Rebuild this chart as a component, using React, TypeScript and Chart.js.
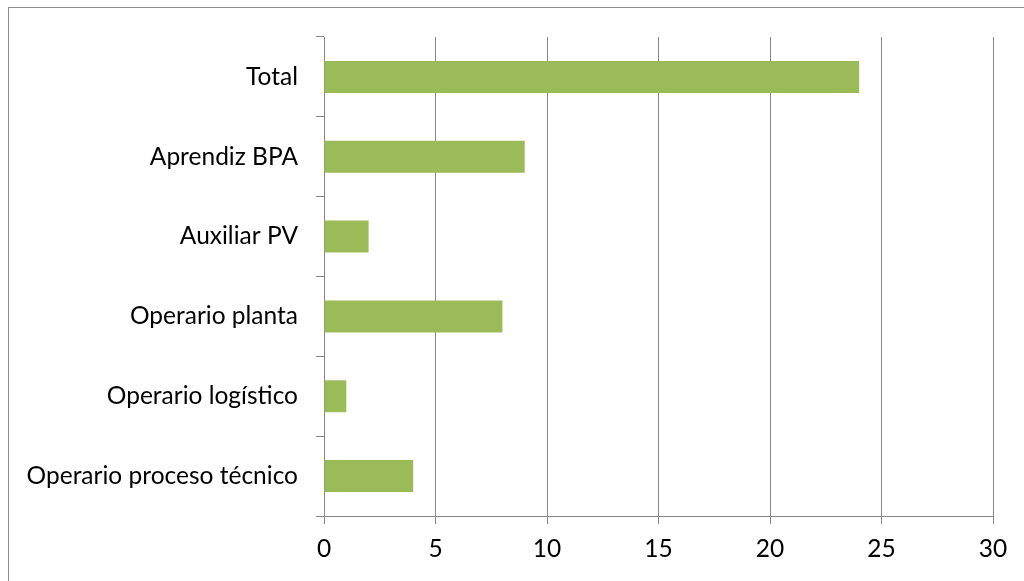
import React, { useEffect, useRef } from "react";
import { Chart, registerables } from "chart.js";

Chart.register(...registerables);

const categories = [
  "Total",
  "Aprendiz BPA",
  "Auxiliar PV",
  "Operario planta",
  "Operario logístico",
  "Operario proceso técnico",
];
const values = [24, 9, 2, 8, 1, 4];
const xMin = 0;
const xMax = 30;
const xStep = 5;

const FONT = "Lato";
const GRID = "#868686";

export default function App() {
  const ref = useRef<HTMLCanvasElement | null>(null);
  useEffect(() => {
    if (!ref.current) return;
    const chart = new Chart(ref.current, {
      type: "bar",
      data: {
        labels: categories,
        datasets: [
          {
            data: values,
            backgroundColor: "#9BBB59",
            borderWidth: 0,
            barPercentage: 0.4,
            categoryPercentage: 1,
          },
        ],
      },
      options: {
        indexAxis: "y",
        animation: false,
        responsive: false,
        maintainAspectRatio: false,
        layout: { padding: { top: 37, right: 31, bottom: 0, left: 0 } },
        plugins: { legend: { display: false }, tooltip: { enabled: false } },
        scales: {
          x: {
            min: xMin,
            max: xMax,
            ticks: { stepSize: xStep, color: "#000", font: { family: FONT, size: 24.5 }, padding: 10 },
            grid: { color: GRID, lineWidth: 1, tickLength: 8 },
            border: { color: GRID, width: 1 },
            afterFit: (s: any) => {
              s.height = 65;
            },
          },
          y: {
            ticks: { color: "#000", font: { family: FONT, size: 24.5 }, padding: 18 },
            grid: { display: true, drawOnChartArea: false, offset: true, color: GRID, tickLength: 8 },
            border: { color: GRID, width: 1 },
            afterFit: (s: any) => {
              s.width = 324;
            },
          },
        },
      },
    });
    return () => chart.destroy();
  }, []);
  return (
    <div style={{ position: "fixed", left: 0, top: 0, width: 1024, height: 581, overflow: "hidden", background: "#fff" }}>
      <div
        style={{
          position: "absolute",
          left: 8,
          top: 7,
          width: 1100,
          height: 700,
          borderLeft: "1px solid #8c8c8c",
          borderTop: "1px solid #8c8c8c",
        }}
      />
      <canvas ref={ref} width={1024} height={581} style={{ position: "absolute", left: 0, top: 0 }} />
    </div>
  );
}
